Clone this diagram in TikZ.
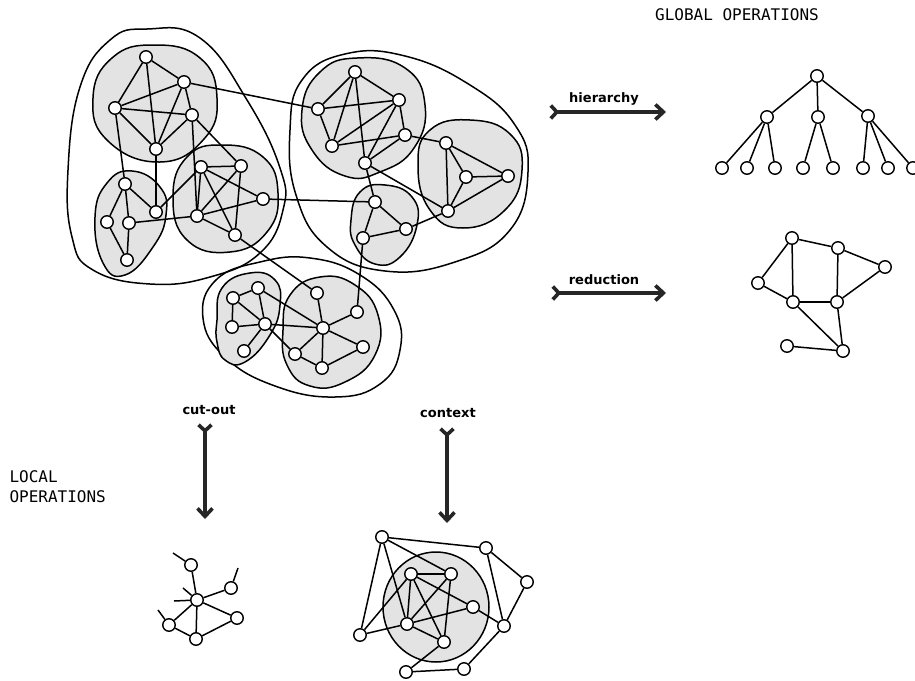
\documentclass[tikz,border=0pt]{standalone}
\usepackage{fontspec}
\setsansfont{DejaVu Sans}
\setmonofont{DejaVu Sans Mono}
\usetikzlibrary{arrows.meta}

\begin{document}
\begin{tikzpicture}[x=1pt,y=-1pt,
    vx/.style={circle,draw,fill=white,inner sep=0pt,minimum size=12.5pt,line width=1.4pt},
    edge/.style={line width=1.5pt},
    cluster/.style={draw,fill=black!11,line width=1.5pt},
    group/.style={draw,line width=1.5pt},
    op/.style={line width=3.6pt,draw=black!85,{Straight Barb[reversed,length=6pt,width=13pt]}-{Straight Barb[length=8pt,width=15pt]}},
    oplabel/.style={font=\sffamily\bfseries\fontsize{13}{15}\selectfont},
    title/.style={font=\ttfamily\fontsize{16}{20.5}\selectfont,align=left}]
\useasboundingbox (0,0) rectangle (915,680);

% outer groups
\draw[group] plot[smooth cycle,tension=0.75] coordinates {(147,29) (200,38) (247,100) (280,168) (283,210) (260,253) (210,277) (150,284) (93,270) (72,237) (68,170) (80,87) (110,40)};
\draw[group] plot[smooth cycle,tension=0.75] coordinates {(290,130) (302,80) (345,54) (405,56) (470,85) (515,125) (528,172) (510,230) (455,262) (385,271) (327,247) (296,195)};
\draw[group] plot[smooth cycle,tension=0.75] coordinates {(203,318) (216,280) (260,262) (310,258) (360,275) (394,310) (400,350) (380,384) (335,397) (275,386) (225,357)};

% clusters
\draw[cluster] plot[smooth cycle,tension=0.8] coordinates {(93,98) (112,58) (154,45) (200,58) (217,98) (204,139) (160,162) (108,141)};
\draw[cluster] plot[smooth cycle,tension=0.8] coordinates {(107,183) (132,171) (160,187) (166,215) (153,247) (125,275) (103,263) (95,217)};
\draw[cluster] plot[smooth cycle,tension=0.8] coordinates {(173,197) (187,157) (222,145) (263,157) (278,193) (267,232) (230,252) (187,240)};
\draw[cluster] plot[smooth cycle,tension=0.8] coordinates {(302,110) (320,72) (357,58) (405,68) (425,105) (414,148) (380,172) (345,176) (312,150)};
\draw[cluster] plot[smooth cycle,tension=0.8] coordinates {(418,165) (430,130) (470,120) (510,134) (522,170) (505,210) (463,228) (430,210)};
\draw[cluster] plot[smooth cycle,tension=0.8] coordinates {(351,220) (360,192) (385,185) (412,197) (417,225) (400,257) (375,264) (355,245)};
\draw[cluster] plot[smooth cycle,tension=0.8] coordinates {(217,320) (222,288) (250,273) (275,280) (280,305) (270,335) (245,362) (225,360) (217,342)};
\draw[cluster] plot[smooth cycle,tension=0.8] coordinates {(283,330) (290,295) (320,277) (355,285) (378,315) (375,355) (345,382) (310,386) (287,365)};
\draw[cluster] (436,607) ellipse (53 and 55);

% network
\foreach \n/\x/\y in {a1/146/57,a2/184/82,a3/115/108,a4/192/115,a5/156/149,
    b1/125/184,b2/107/222,b3/129/223,b4/127/260,b5/156/212,
    c1/201/167,c2/241/166,c3/263/199,c4/197/216,c5/235/235,
    d1/355/72,d2/399/100,d3/318/109,d4/405/135,d5/332/146,d6/365/163,
    e1/446/143,e2/466/177,e3/448/211,e4/508/176,
    f1/375/202,f2/406/229,f3/363/238,
    g1/258/288,g2/233/298,g3/232/327,g4/265/324,g5/244/351,
    h1/317/293,h2/323/328,h3/357/312,h4/295/354,h5/322/368,h6/363/347}
    \node[vx] (\n) at (\x,\y) {};
\foreach \u/\v in {a1/a2,a1/a3,a1/a5,a2/a3,a2/a4,a2/a5,a3/a4,a3/a5,a4/a5,
    a3/b1,a5/b5,a4/c4,a4/c2,a2/d3,
    b1/b2,b1/b3,b1/b5,b2/b4,b3/b4,b3/c4,b5/c1,
    c1/c2,c1/c4,c1/c3,c1/c5,c2/c4,c2/c5,c4/c3,c4/c5,c3/f1,c5/h1,
    d1/d3,d1/d2,d1/d5,d1/d6,d3/d2,d3/d5,d5/d2,d5/d4,d2/d4,d2/d6,d4/d6,
    d4/e1,d6/f1,d6/e3,
    e1/e2,e1/e3,e1/e4,e2/e3,e2/e4,e3/e4,
    f1/f2,f1/f3,f2/f3,f2/e3,f3/h3,
    g1/g2,g1/g4,g2/g3,g2/g4,g3/g4,g4/g5,g1/h2,g4/h2,g4/h4,
    h1/h2,h2/h3,h2/h4,h2/h5,h2/h6,h4/h5,h5/h6}
    \draw[edge] (\u) -- (\v);

% global operations
\node[title] (global) at (737,15) {GLOBAL OPERATIONS};
\coordinate (hs) at (549,112);
\coordinate (he) at (666,112);
\draw[op] (hs) -- (he);
\node[oplabel] (hier) at (604,99) {hierarchy};
\coordinate (rs) at (551,293);
\coordinate (re) at (666,293);
\draw[op] (rs) -- (re);
\node[oplabel] (red) at (604,280) {reduction};

\foreach \n/\x/\y in {t0/817/76,t1/767/117,t2/818/117,t3/868/116,
    l1/722/168,l2/747/168,l3/775/168,l4/803/168,l5/833/168,l6/863/168,l7/888/168,l8/913/168}
    \node[vx] (\n) at (\x,\y) {};
\foreach \u/\v in {t0/t1,t0/t2,t0/t3,t1/l1,t1/l2,t1/l3,t2/l4,t2/l5,t3/l6,t3/l7,t3/l8}
    \draw[edge] (\u) -- (\v);

\foreach \n/\x/\y in {r1/792/238,r2/838/248,r3/885/267,r4/758/283,
    r5/793/302,r6/837/302,r7/787/346,r8/843/351}
    \node[vx] (\n) at (\x,\y) {};
\foreach \u/\v in {r1/r2,r1/r4,r1/r5,r2/r3,r2/r6,r3/r6,r4/r5,r5/r6,r5/r8,r6/r8,r7/r8}
    \draw[edge] (\u) -- (\v);

% local operations
\node[title,anchor=north west] (local) at (6,467) {LOCAL\\OPERATIONS};
\coordinate (cs) at (205,423);
\coordinate (ce) at (205,519);
\draw[op] (cs) -- (ce);
\node[oplabel] (cut) at (209,410) {cut-out};
\coordinate (xs) at (447,427);
\coordinate (xe) at (447,523);
\draw[op] (xs) -- (xe);
\node[oplabel] (ctx) at (448,413) {context};

\foreach \n/\x/\y in {k1/191/565,k2/231/588,k3/197/600,k4/237/618,k5/169/625,k6/196/639}
    \node[vx] (\n) at (\x,\y) {};
\coordinate (s1) at (173,553);
\coordinate (s2) at (238,568);
\coordinate (s3) at (183,588);
\coordinate (s4) at (174,601);
\coordinate (s5) at (158,610);
\foreach \u/\v in {k1/k3,k2/k3,k3/k4,k3/k5,k3/k6,k5/k6,k6/k4,
    k1/s1,k2/s2,k3/s3,k3/s4,k5/s5}
    \draw[edge] (\u) -- (\v);

\foreach \n/\x/\y in {m1/382/537,m2/486/548,m3/527/582,m4/360/635,m5/504/626,
    m6/406/672,m7/464/669,n1/411/574,n2/451/574,n3/473/607,n4/407/624,n5/444/642}
    \node[vx] (\n) at (\x,\y) {};
\foreach \u/\v in {m1/m2,m1/m4,m1/n4,m1/n2,m2/m3,m2/m5,m3/m5,m4/n1,m4/n4,
    m5/n3,m5/m7,m7/m6,m6/n5,
    n1/n2,n1/n4,n1/n3,n1/n5,n2/n4,n2/n5,n4/n3,n4/n5}
    \draw[edge] (\u) -- (\v);
\end{tikzpicture}
\end{document}
